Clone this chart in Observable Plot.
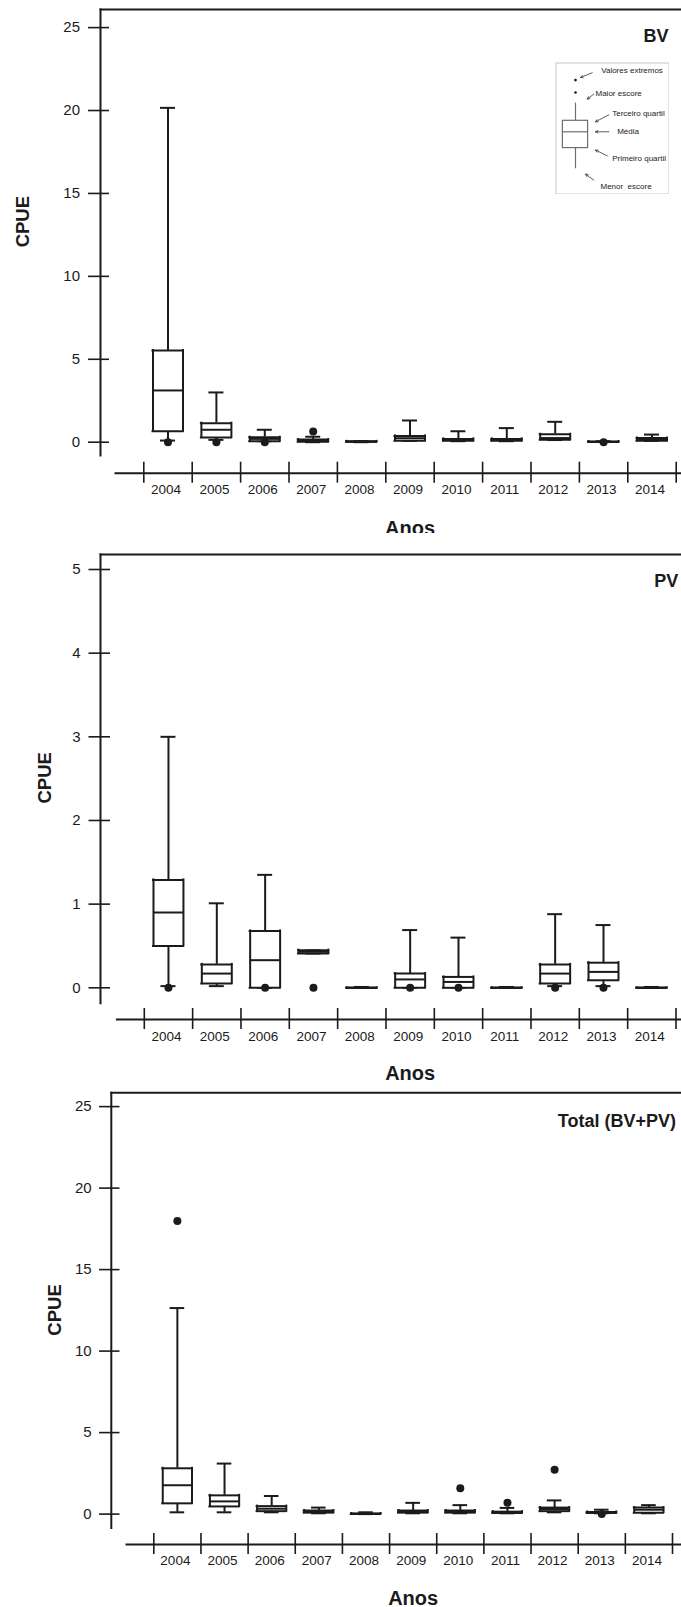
<!DOCTYPE html>
<html>
<head>
<meta charset="utf-8">
<script src="https://cdn.jsdelivr.net/npm/d3@7"></script>
<script src="https://cdn.jsdelivr.net/npm/@observablehq/plot@0.6"></script>
<style>
  html, body { margin: 0; padding: 0; background: #fff; }
  #wrap { width: 681px; }
  .panel { position: relative; overflow: hidden; width: 681px; }
  .panel svg { display: block; }
  .legend { position: absolute; }
</style>
</head>
<body>
<div id="wrap"></div>
<script>
// ---------- data ----------
const years = [2004, 2005, 2006, 2007, 2008, 2009, 2010, 2011, 2012, 2013, 2014];
const ticksTotal = [0, 5, 10, 15, 20, 25];
const ticksPV = [0, 1, 2, 3, 4, 5];

// BV
const bvMin = [0.10, 0.14, 0.06, 0.00, 0.00, 0.08, 0.06, 0.06, 0.13, 0.01, 0.08];
const bvQ1  = [0.66, 0.28, 0.06, 0.02, 0.02, 0.08, 0.08, 0.08, 0.15, 0.01, 0.08];
const bvMed = [3.12, 0.75, 0.20, 0.08, 0.03, 0.24, 0.14, 0.14, 0.25, 0.02, 0.16];
const bvQ3  = [5.53, 1.15, 0.30, 0.16, 0.05, 0.38, 0.20, 0.20, 0.48, 0.04, 0.25];
const bvMax = [20.16, 3.00, 0.75, 0.33, 0.07, 1.31, 0.66, 0.85, 1.23, 0.06, 0.46];
const bvOutYear = [2004, 2005, 2006, 2007, 2013];
const bvOutVal  = [0.00, 0.00, 0.00, 0.65, 0.00];

// PV
const pvMin = [0.02, 0.02, 0.00, 0.41, 0.00, 0.00, 0.00, 0.00, 0.02, 0.02, 0.00];
const pvQ1  = [0.50, 0.05, 0.00, 0.41, 0.00, 0.00, 0.00, 0.00, 0.05, 0.09, 0.00];
const pvMed = [0.90, 0.17, 0.33, 0.43, 0.00, 0.10, 0.07, 0.00, 0.17, 0.19, 0.00];
const pvQ3  = [1.29, 0.28, 0.68, 0.45, 0.00, 0.17, 0.13, 0.00, 0.28, 0.30, 0.00];
const pvMax = [3.00, 1.01, 1.35, 0.45, 0.01, 0.69, 0.60, 0.01, 0.88, 0.75, 0.01];
const pvOutYear = [2004, 2006, 2007, 2009, 2010, 2012, 2013];
const pvOutVal  = [0.00, 0.00, 0.00, 0.00, 0.00, 0.00, 0.00];

// Total (BV+PV)
const tMin = [0.11, 0.11, 0.11, 0.05, 0.00, 0.05, 0.05, 0.05, 0.11, 0.05, 0.05];
const tQ1  = [0.66, 0.47, 0.18, 0.09, 0.01, 0.09, 0.09, 0.07, 0.18, 0.07, 0.09];
const tMed = [1.77, 0.78, 0.33, 0.15, 0.02, 0.15, 0.15, 0.10, 0.31, 0.10, 0.27];
const tQ3  = [2.81, 1.15, 0.49, 0.22, 0.04, 0.22, 0.22, 0.15, 0.40, 0.13, 0.40];
const tMax = [12.64, 3.10, 1.11, 0.40, 0.11, 0.69, 0.55, 0.38, 0.84, 0.27, 0.55];
const tOutYear = [2004, 2010, 2011, 2012, 2013];
const tOutVal  = [17.98, 1.59, 0.69, 2.72, 0.00];

// legend (schematic key)
const legendLabels = ["Valores extremos", "Maior escore", "Terceiro quartil", "Média", "Primeiro quartil", "Menor\u00a0\u00a0escore"];

// ---------- helpers ----------
const rowsOf = (mn, q1, md, q3, mx) => years.map((year, i) => ({year, min: mn[i], q1: q1[i], med: md[i], q3: q3[i], max: mx[i]}));
const outsOf = (ys, vs) => ys.map((year, i) => ({year, val: vs[i]}));

const W = 681;
const INK = "#1b1b1b";
const FONT = "'Liberation Sans', Arial, sans-serif";

function panel(cfg) {
  const {H, top, axisX, axisBottom, xAxisY, xAxisStart, band, yZero, yTopPx, ticks,
         tickOut, tickIn, labelGap, yearDy, anosDy, cpueX, cpueDy, title, titleRight, titleBase, rows, outs} = cfg;
  const half = 0.31, cap = 0.155;
  const bounds = years.map(y => y - 0.5).concat([years[years.length - 1] + 0.5]);
  const yTopVal = ticks[ticks.length - 1];
  return Plot.plot({
    width: W, height: H,
    marginLeft: axisX, marginRight: 0, marginTop: top, marginBottom: H - xAxisY,
    x: {type: "linear", domain: [bounds[0], bounds[bounds.length - 1]], range: band, axis: null},
    y: {type: "linear", domain: [0, yTopVal], range: [yZero, yTopPx], axis: null},
    style: {fontFamily: FONT, color: INK, background: "white"},
    marks: [
      // frame lines / axes
      Plot.frame({anchor: "top", stroke: INK, strokeWidth: 2}),
      Plot.frame({anchor: "left", stroke: INK, strokeWidth: 2, insetBottom: xAxisY - axisBottom}),
      Plot.frame({anchor: "bottom", stroke: INK, strokeWidth: 2, insetLeft: xAxisStart - axisX}),
      Plot.ruleY(ticks, {y: d => d, insetLeft: -tickOut, insetRight: W - axisX - tickIn, stroke: INK, strokeWidth: 1.6}),
      Plot.text(ticks, {y: d => d, text: d => String(d), frameAnchor: "left", textAnchor: "end", dx: -labelGap, fontSize: 15, fill: INK}),
      Plot.ruleX(bounds, {x: d => d, insetTop: xAxisY - 11 - top, insetBottom: -10, stroke: INK, strokeWidth: 1.6}),
      Plot.text(years, {x: d => d, text: d => String(d), frameAnchor: "bottom", dy: yearDy, dx: -2, fontSize: 13.5, fill: INK}),
      Plot.text(["Anos"], {x: () => d3.mean(years), text: d => d, frameAnchor: "bottom", dy: anosDy, lineAnchor: "bottom", fontSize: 20, fontWeight: "bold", fill: INK}),
      Plot.text(["CPUE"], {text: d => d, frameAnchor: "left", dx: cpueX - axisX, dy: cpueDy, rotate: -90, fontSize: 18.5, fontWeight: "bold", fill: INK}),
      Plot.text([title], {text: d => d, frameAnchor: "top-right", textAnchor: "end", lineAnchor: "bottom", dx: titleRight - W, dy: titleBase - top, fontSize: 18, fontWeight: "bold", fill: INK}),
      // whiskers
      Plot.ruleX(rows, {x: "year", y1: "q3", y2: "max", stroke: INK, strokeWidth: 2}),
      Plot.ruleX(rows, {x: "year", y1: "min", y2: "q1", stroke: INK, strokeWidth: 2}),
      Plot.ruleY(rows, {y: "max", x1: d => d.year - cap, x2: d => d.year + cap, stroke: INK, strokeWidth: 2}),
      Plot.ruleY(rows, {y: "min", x1: d => d.year - cap, x2: d => d.year + cap, stroke: INK, strokeWidth: 2}),
      // boxes
      Plot.rect(rows, {x1: d => d.year - half, x2: d => d.year + half, y1: "q1", y2: "q3", fill: "white"}),
      Plot.ruleY(rows, {y: "q1", x1: d => d.year - half, x2: d => d.year + half, stroke: INK, strokeWidth: 2, strokeLinecap: "square"}),
      Plot.ruleY(rows, {y: "q3", x1: d => d.year - half, x2: d => d.year + half, stroke: INK, strokeWidth: 2, strokeLinecap: "square"}),
      Plot.ruleX(rows, {x: d => d.year - half, y1: "q1", y2: "q3", stroke: INK, strokeWidth: 2, strokeLinecap: "square"}),
      Plot.ruleX(rows, {x: d => d.year + half, y1: "q1", y2: "q3", stroke: INK, strokeWidth: 2, strokeLinecap: "square"}),
      Plot.ruleY(rows, {y: "med", x1: d => d.year - half, x2: d => d.year + half, stroke: INK, strokeWidth: 2}),
      // outliers
      Plot.dot(outs, {x: "year", y: "val", r: 4, fill: INK, stroke: null})
    ]
  });
}

function legendKey() {
  // schematic sample box in its own small pixel-sized scales
  const sample = {out: [17.6, 30], max: 40.6, q3: 58.3, med: 69.3, q1: 85.6, min: 106.3, x: 20, half: 12.6};
  const targets = [
    {lx: 45.7, ly: 7.6,  ax1: 36.7, ay1: 10.3, ax2: 25, ay2: 15},
    {lx: 40,   ly: 31,   ax1: 38.3, ay1: 31.6, ax2: 31.7, ay2: 36.6},
    {lx: 56.7, ly: 51,   ax1: 53.3, ay1: 52.3, ax2: 40, ay2: 59.3},
    {lx: 61.7, ly: 69.3, ax1: 53.3, ay1: 69.3, ax2: 40, ay2: 69.3},
    {lx: 56.7, ly: 96,   ax1: 51.7, ay1: 93.3, ax2: 40, ay2: 87.6},
    {lx: 45,   ly: 124,  ax1: 38.3, ay1: 117.6, ax2: 30, ay2: 111.6}
  ].map((t, i) => ({...t, label: legendLabels[i]}));
  const g = "#6e6e6e";
  return Plot.plot({
    width: 114, height: 132, margin: 0,
    x: {domain: [0, 114], range: [0, 114], axis: null},
    y: {domain: [0, 132], range: [0, 132], axis: null},
    style: {fontFamily: FONT, background: "white"},
    marks: [
      Plot.frame({stroke: "#c8c8c8", strokeWidth: 1, inset: 0.5}),
      Plot.dot(sample.out, {x: () => sample.x, y: d => d, r: 1.3, fill: "#111", stroke: null}),
      Plot.ruleX([sample], {x: "x", y1: "q3", y2: "max", stroke: g, strokeWidth: 1.2}),
      Plot.ruleX([sample], {x: "x", y1: "min", y2: "q1", stroke: g, strokeWidth: 1.2}),
      Plot.rect([sample], {x1: d => d.x - d.half, x2: d => d.x + d.half, y1: "q3", y2: "q1", fill: "white", stroke: g, strokeWidth: 1.2}),
      Plot.ruleY([sample], {y: "med", x1: d => d.x - d.half, x2: d => d.x + d.half, stroke: g, strokeWidth: 1.2}),
      Plot.arrow(targets, {x1: "ax1", y1: "ay1", x2: "ax2", y2: "ay2", stroke: "#333", strokeWidth: 0.8, headLength: 5, headAngle: 55}),
      Plot.text(targets, {x: "lx", y: "ly", text: "label", textAnchor: "start", fontSize: 8, fill: "#222"})
    ]
  });
}

// ---------- layout ----------
const wrap = document.getElementById("wrap");
function addPanel(H, svg) {
  const div = document.createElement("div");
  div.className = "panel";
  div.style.height = H + "px";
  div.appendChild(svg);
  wrap.appendChild(div);
  return div;
}

const p1 = addPanel(533, panel({
  H: 533, top: 9, axisX: 100, axisBottom: 455, xAxisY: 472.7, xAxisStart: 115,
  band: [143.3, 675.7], yZero: 441.7, yTopPx: 27.1, ticks: ticksTotal,
  tickOut: 12, tickIn: 9, labelGap: 20.5, yearDy: 20.3, anosDy: 62,
  cpueX: 23, cpueDy: 6, title: "BV", titleRight: 668, titleBase: 41.5,
  rows: rowsOf(bvMin, bvQ1, bvMed, bvQ3, bvMax), outs: outsOf(bvOutYear, bvOutVal)
}));
const leg = legendKey();
leg.classList.add("legend");
leg.style.left = "555px";
leg.style.top = "62px";
p1.appendChild(leg);

addPanel(553, panel({
  H: 553, top: 21, axisX: 100, axisBottom: 469.7, xAxisY: 486, xAxisStart: 116.4,
  band: [143.8, 675.5], yZero: 454.3, yTopPx: 36, ticks: ticksPV,
  tickOut: 11.5, tickIn: 10, labelGap: 20, yearDy: 21, anosDy: 60.7,
  cpueX: 44.7, cpueDy: 16.5, title: "PV", titleRight: 677.7, titleBase: 53.7,
  rows: rowsOf(pvMin, pvQ1, pvMed, pvQ3, pvMax), outs: outsOf(pvOutYear, pvOutVal)
}));

addPanel(521, panel({
  H: 521, top: 6.3, axisX: 110.8, axisBottom: 441.4, xAxisY: 458, xAxisStart: 126,
  band: [153.3, 672], yZero: 427.6, yTopPx: 20.1, ticks: ticksTotal,
  tickOut: 11.8, tickIn: 8.7, labelGap: 19.6, yearDy: 20.2, anosDy: 60,
  cpueX: 54.3, cpueDy: 17, title: "Total (BV+PV)", titleRight: 675.5, titleBase: 40.5,
  rows: rowsOf(tMin, tQ1, tMed, tQ3, tMax), outs: outsOf(tOutYear, tOutVal)
}));
</script>
</body>
</html>
